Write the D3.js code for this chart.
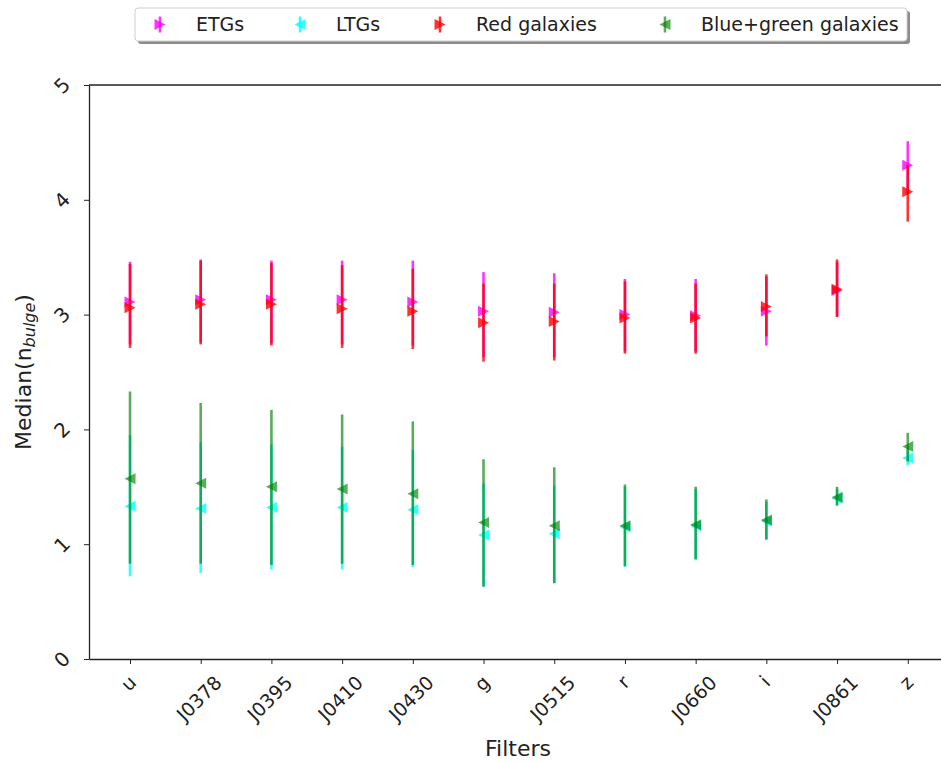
<!DOCTYPE html>
<html lang="en">
  <head>
    <meta charset="UTF-8" />
    <title>Median n_bulge per filter</title>
    <script src="https://cdn.jsdelivr.net/npm/d3@7"></script>
    <style>
      body { margin: 0; background: #fff; }
      text { font-family: "DejaVu Sans", sans-serif; fill: #222; }
    </style>
  </head>
  <body>
    <div id="wrapper"></div>
    <script>
      const filters = ['u', 'J0378', 'J0395', 'J0410', 'J0430', 'g', 'J0515', 'r', 'J0660', 'i', 'J0861', 'z']
      const yTicks = [0, 1, 2, 3, 4, 5]

      // ETGs
      const etgMed = [3.11, 3.13, 3.13, 3.13, 3.11, 3.03, 3.02, 3.00, 2.99, 3.03, 3.21, 4.30]
      const etgHi = [3.46, 3.48, 3.47, 3.47, 3.47, 3.37, 3.36, 3.31, 3.31, 3.33, 3.46, 4.51]
      const etgLo = [2.74, 2.76, 2.75, 2.74, 2.73, 2.63, 2.63, 2.68, 2.68, 2.73, 2.98, 4.05]
      // LTGs
      const ltgMed = [1.33, 1.31, 1.32, 1.32, 1.30, 1.08, 1.09, 1.15, 1.16, 1.20, 1.40, 1.75]
      const ltgHi = [1.95, 1.89, 1.87, 1.85, 1.82, 1.53, 1.51, 1.50, 1.48, 1.37, 1.48, 1.85]
      const ltgLo = [0.72, 0.75, 0.78, 0.78, 0.80, 0.63, 0.66, 0.80, 0.86, 1.04, 1.33, 1.69]
      // Red galaxies
      const redMed = [3.06, 3.09, 3.09, 3.05, 3.03, 2.93, 2.94, 2.97, 2.97, 3.07, 3.22, 4.07]
      const redHi = [3.44, 3.47, 3.45, 3.43, 3.40, 3.27, 3.27, 3.29, 3.27, 3.35, 3.48, 4.30]
      const redLo = [2.71, 2.74, 2.73, 2.71, 2.70, 2.59, 2.60, 2.66, 2.66, 2.81, 2.98, 3.81]
      // Blue+green galaxies
      const bgMed = [1.57, 1.53, 1.50, 1.48, 1.44, 1.19, 1.16, 1.16, 1.17, 1.21, 1.41, 1.85]
      const bgHi = [2.33, 2.23, 2.17, 2.13, 2.07, 1.74, 1.67, 1.52, 1.50, 1.39, 1.50, 1.97]
      const bgLo = [0.83, 0.83, 0.82, 0.83, 0.82, 0.63, 0.66, 0.81, 0.87, 1.04, 1.34, 1.72]

      const series = [
        { name: 'ETGs', color: '#ff00ff', alpha: 0.8, dir: 'right', med: etgMed, hi: etgHi, lo: etgLo },
        { name: 'LTGs', color: '#00ffff', alpha: 0.8, dir: 'left', med: ltgMed, hi: ltgHi, lo: ltgLo },
        { name: 'Red galaxies', color: '#ff0000', alpha: 0.8, dir: 'right', med: redMed, hi: redHi, lo: redLo },
        { name: 'Blue+green galaxies', color: '#008000', alpha: 0.65, dir: 'left', med: bgMed, hi: bgHi, lo: bgLo }
      ]

      const dms = {
        width: 941,
        height: 763,
        margin: { top: 85, left: 89, right: 0, bottom: 104 }
      }
      dms.boundedWidth = dms.width - dms.margin.left - dms.margin.right
      dms.boundedHeight = dms.height - dms.margin.top - dms.margin.bottom

      const svg = d3.select('#wrapper').append('svg')
        .attr('width', dms.width)
        .attr('height', dms.height)

      const g = svg.append('g')
        .attr('transform', `translate(${dms.margin.left},${dms.margin.top})`)

      const xScale = d3.scaleLinear()
        .domain([-0.58, 11.47])
        .range([0, dms.boundedWidth])
      const yScale = d3.scaleLinear()
        .domain([0, 5])
        .range([dms.boundedHeight, 0])

      // triangle marker, s = half size
      function tri(dir, s) {
        return dir === 'right'
          ? `M${-s},${-s}L${s},0L${-s},${s}Z`
          : `M${s},${-s}L${-s},0L${s},${s}Z`
      }

      // spines: left, bottom, top (right one is cut off)
      g.append('line').attr('x1', 0).attr('x2', dms.boundedWidth).attr('y1', 0).attr('y2', 0)
        .attr('stroke', '#222').attr('stroke-width', 1.3)

      const yAxis = g.append('g')
        .call(d3.axisLeft(yScale).tickValues(yTicks).tickSize(5).tickSizeOuter(0).tickFormat(d3.format('d')))
      yAxis.select('.domain').attr('stroke', '#222').attr('stroke-width', 1.3)
      yAxis.selectAll('.tick line').attr('stroke', '#222')
      yAxis.selectAll('.tick text')
        .attr('font-size', 20)
        .attr('x', -27)
        .attr('dy', '0.35em')
        .attr('text-anchor', 'middle')
        .attr('transform', 'rotate(-45,-27,0)')

      const xAxis = g.append('g')
        .attr('transform', `translate(0,${dms.boundedHeight})`)
        .call(d3.axisBottom(xScale).tickValues(d3.range(filters.length)).tickSize(5).tickSizeOuter(0).tickFormat(i => filters[i]))
      xAxis.select('.domain').attr('stroke', '#222').attr('stroke-width', 1.3)
      xAxis.selectAll('.tick line').attr('stroke', '#222')
      // rotated labels, centred on the tick like matplotlib's ha='center'
      xAxis.selectAll('.tick text')
        .attr('font-size', 19)
        .attr('text-anchor', 'middle')
        .attr('y', 0)
        .attr('dy', '0.35em')
        .each(function () {
          const b = this.getBBox()
          const half = (b.width + 14) * Math.SQRT1_2 / 2
          d3.select(this).attr('transform', `translate(-2,${15 + half})rotate(-45)`)
        })

      // axis labels
      svg.append('text')
        .attr('x', dms.margin.left + dms.boundedWidth / 2 + 3)
        .attr('y', 756)
        .attr('text-anchor', 'middle')
        .attr('font-size', 22)
        .text('Filters')

      const yl = svg.append('text')
        .attr('transform', `translate(31,${dms.margin.top + dms.boundedHeight / 2})rotate(-90)`)
        .attr('text-anchor', 'middle')
        .attr('font-size', 22)
      yl.append('tspan').text('Median(n')
      yl.append('tspan').attr('font-size', 16).attr('font-style', 'italic').attr('dy', 4).text('bulge')
      yl.append('tspan').attr('dy', -4).text(')')

      // error bars + markers
      series.forEach(s => {
        const sg = g.append('g')
        sg.selectAll('line.err')
          .data(filters.map((f, i) => i))
          .join('line')
          .attr('class', 'err')
          .attr('x1', i => xScale(i))
          .attr('x2', i => xScale(i))
          .attr('y1', i => yScale(s.lo[i]))
          .attr('y2', i => yScale(s.hi[i]))
          .attr('stroke', s.color)
          .attr('stroke-opacity', s.alpha)
          .attr('stroke-width', 2.6)
        sg.selectAll('path.mk')
          .data(filters.map((f, i) => i))
          .join('path')
          .attr('class', 'mk')
          .attr('d', tri(s.dir, 5.5))
          .attr('transform', i => `translate(${xScale(i)},${yScale(s.med[i])})`)
          .attr('fill', s.color)
          .attr('fill-opacity', s.alpha)
      })

      // legend with shadow
      const leg = svg.append('g')
      const lx = 135, ly = 8, lw = 772, lh = 33
      leg.append('rect').attr('x', lx + 3).attr('y', ly + 3).attr('width', lw).attr('height', lh)
        .attr('rx', 3).attr('fill', '#8c8c8c')
      leg.append('rect').attr('x', lx).attr('y', ly).attr('width', lw).attr('height', lh)
        .attr('rx', 3).attr('fill', '#fff').attr('stroke', '#cfcfcf')
      const legX = [160, 300, 440, 665]
      series.forEach((s, k) => {
        const item = leg.append('g').attr('transform', `translate(${legX[k]},${ly + lh / 2})`)
        item.append('line').attr('y1', -8).attr('y2', 8)
          .attr('stroke', s.color).attr('stroke-opacity', s.alpha).attr('stroke-width', 2.6)
        item.append('path').attr('d', tri(s.dir, 5.5))
          .attr('fill', s.color).attr('fill-opacity', s.alpha)
        item.append('text').attr('x', 36).attr('dy', '0.36em').attr('font-size', 19).text(s.name)
      })
    </script>
  </body>
</html>
